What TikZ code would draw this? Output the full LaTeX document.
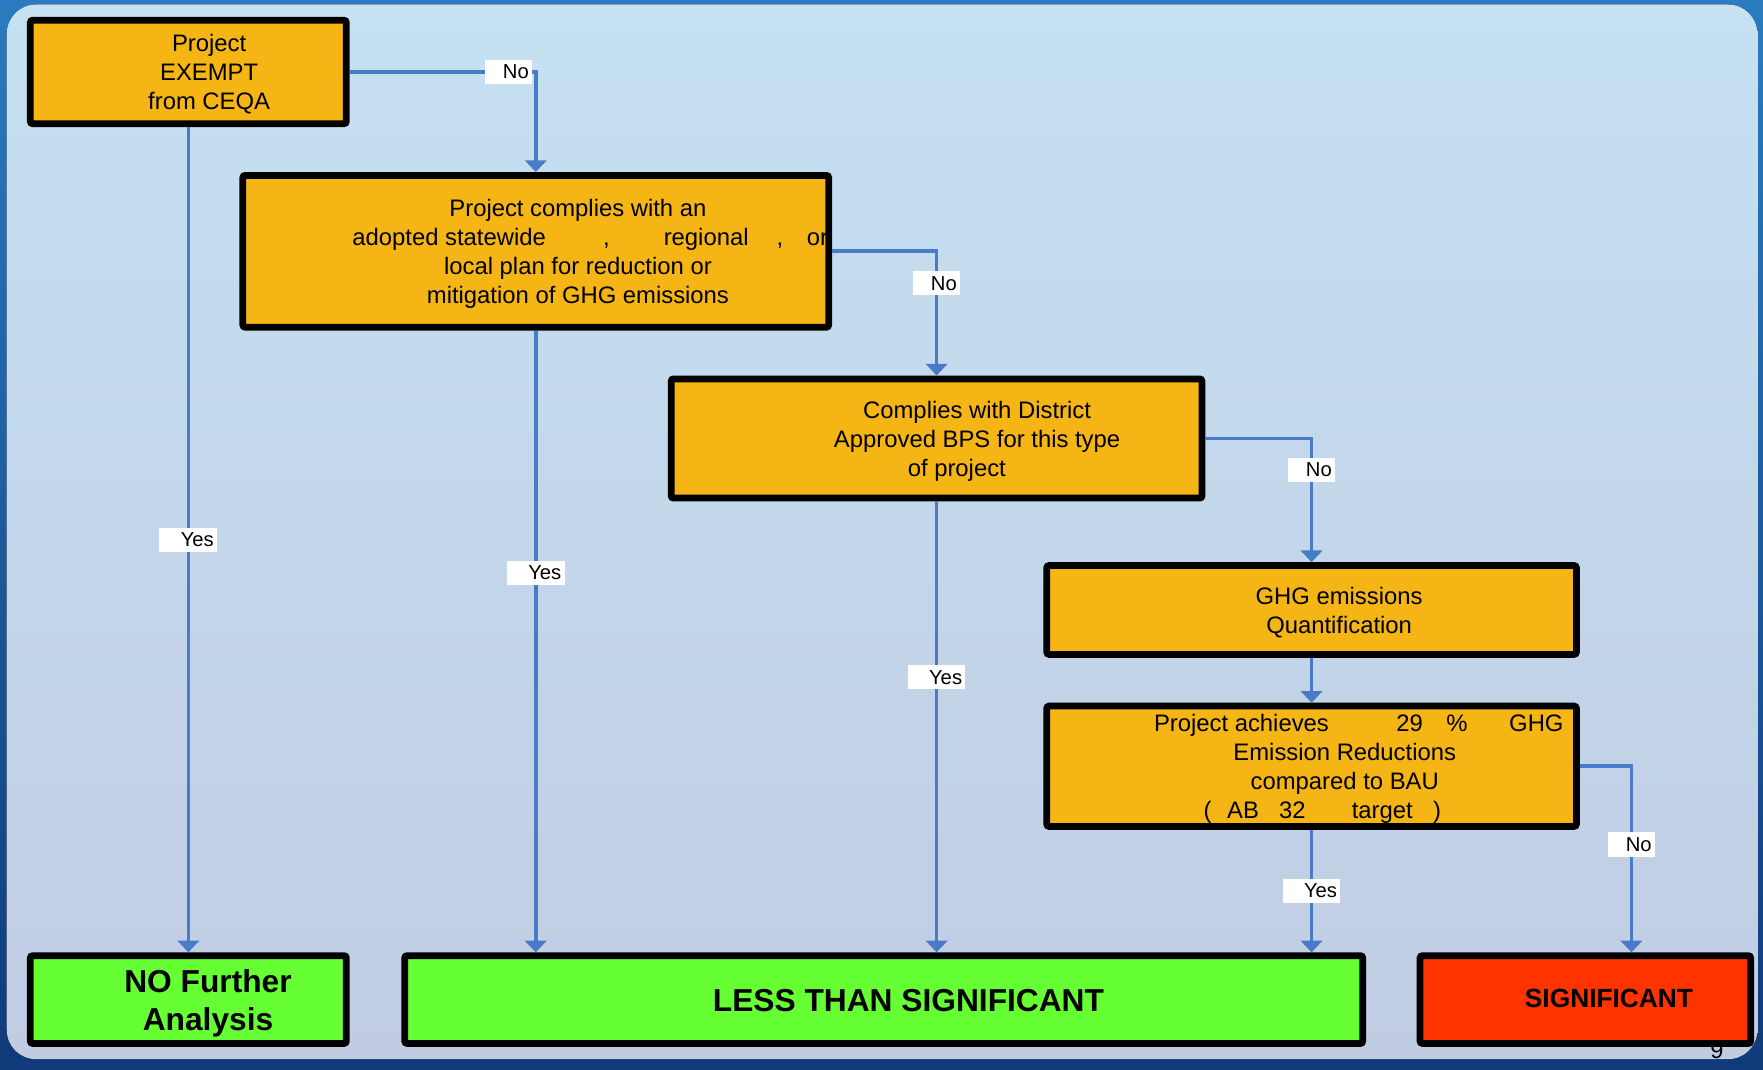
\documentclass[tikz,border=0pt]{standalone}
\usepackage{fontspec}
\setmainfont{Liberation Sans}
\usetikzlibrary{arrows.meta}
\definecolor{frameblue}{HTML}{2A7BC0}
\definecolor{framedark}{HTML}{103A7A}
\definecolor{paneltop}{HTML}{C5E1F2}
\definecolor{panelbot}{HTML}{C1CCE3}
\definecolor{stepfill}{HTML}{F4B515}
\definecolor{okgreen}{HTML}{66FF33}
\definecolor{badred}{HTML}{FF3300}
\definecolor{flowblue}{HTML}{4A7BC6}
\tikzset{
  qbox/.style={draw=black, line width=3pt, rounded corners=1pt, fill=stepfill},
  qtext/.style={align=center, font=\fontsize{10.6}{12.9}\selectfont},
  rtext/.style={align=center, font=\fontsize{14.1}{17}\selectfont\bfseries},
  flowline/.style={draw=flowblue, line width=1.6pt, -{Triangle[width=9.5pt,length=5.2pt]}},
  ans/.style={fill=white, inner xsep=1.5pt, inner ysep=0pt, minimum height=10.8pt, font=\fontsize{9}{10}\selectfont},
}

\begin{document}
\begin{tikzpicture}[x=0.5pt,y=-0.5pt]
        \fill[top color=frameblue, bottom color=framedark] (0,0) rectangle (1568,951);
        \fill[top color=paneltop, bottom color=panelbot, rounded corners=13pt] (6,4) rectangle (1563,942);

        \node[font=\fontsize{10.5}{12}\selectfont] (pagenum) at (1527,934) {9};

        \path
        (167.5,64) node[qbox, minimum width=140.5pt, minimum height=46pt] (exempt) {}
        (476.5,223.5) node[qbox, minimum width=260.5pt, minimum height=67.5pt] (plan) {}
        (833,390) node[qbox, minimum width=236pt, minimum height=53pt] (district) {}
        (1166.5,542.5) node[qbox, minimum width=235.5pt, minimum height=39.5pt] (quant) {}
        (1166.5,681.5) node[qbox, minimum width=235.5pt, minimum height=53.5pt] (achieve) {}
        (167.5,889) node[qbox, fill=okgreen, minimum width=140.5pt, minimum height=39pt] (nofurther) {}
        (786,889) node[qbox, fill=okgreen, minimum width=426pt, minimum height=39pt] (less) {}
        (1410,889) node[qbox, fill=badred, minimum width=147pt, minimum height=39pt] (signif) {}
        ;

        \path
        (186,66) node[qtext] (exempt-txt) {Project\\EXEMPT\\from CEQA}
        (514,226) node[qtext] (plan-txt) {Project complies with an\\\hspace*{11pt}adopted statewide\hspace{25.5pt},\hspace{24pt}regional\hspace{12.5pt},\hspace{10.5pt}or\\local plan for reduction or\\mitigation of GHG emissions}
        (869,392.5) node[qtext] (district-txt) {Complies with District\\Approved BPS for this type\\of project\hspace*{18pt}}
        (1191,545) node[qtext] (quant-txt) {GHG emissions\\Quantification}
        (1196,684) node[qtext] (achieve-txt) {\hspace*{12.5pt}Project achieves\hspace{30pt}29\hspace{10.5pt}\%\hspace{18.5pt}GHG\\Emission Reductions\\compared to BAU\\(\hspace{7pt}AB\hspace{9pt}32\hspace{20.5pt}target\hspace{9pt})\hspace*{20pt}}
        (185,892) node[rtext] (nofurther-txt) {NO Further\\Analysis}
        (808,890) node[rtext] (less-txt) {LESS THAN SIGNIFICANT}
        (1431,888) node[font=\fontsize{11.7}{14}\selectfont\bfseries] (signif-txt) {SIGNIFICANT}
        ;

        \draw[flowline] (exempt.east) -| node[ans, pos=0.5, anchor=east, xshift=-0.8pt] (no1) {\hspace{6.5pt}No} (plan.north);
        \draw[flowline] (plan.east) -| node[ans, pos=0.629] (no2) {\hspace{6.5pt}No} (district.north);
        \draw[flowline] (district.east) -| node[ans, pos=0.627] (no3) {\hspace{6.5pt}No} (quant.north);
        \draw[flowline] (quant) -- (achieve);
        \draw[flowline] (achieve.east) -| node[ans, pos=0.71] (no4) {\hspace{6.5pt}No} ([xshift=20.5pt]signif.north);
        \draw[flowline] (exempt) -- node[ans] (yes1) {\hspace{8pt}Yes} (nofurther);
        \draw[flowline] (plan) -- node[ans, pos=0.39] (yes2) {\hspace{8pt}Yes} (plan |- less.north);
        \draw[flowline] (district) -- node[ans, pos=0.39] (yes3) {\hspace{8pt}Yes} (district |- less.north);
        \draw[flowline] (achieve) -- node[ans] (yes4) {\hspace{8pt}Yes} (achieve |- less.north);
      \end{tikzpicture}
\end{document}
